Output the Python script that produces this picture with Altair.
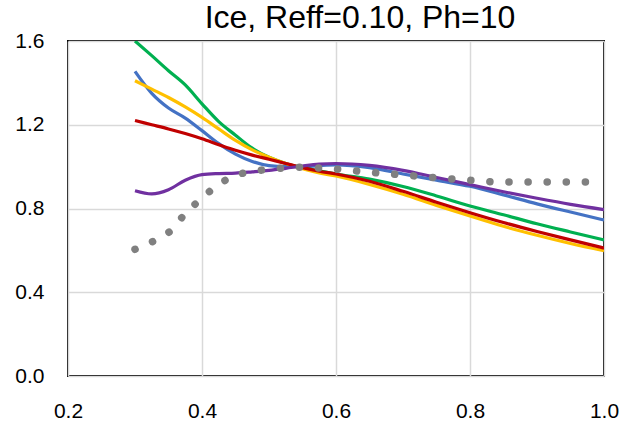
import altair as alt
import pandas as pd

x_vals = [0.30, 0.325, 0.35, 0.375, 0.40, 0.425, 0.45, 0.475, 0.50, 0.525, 0.55,
          0.575, 0.60, 0.65, 0.70, 0.75, 0.80, 0.85, 0.90, 0.95, 1.00]
blue = [1.455, 1.35, 1.28, 1.232, 1.172, 1.11, 1.06, 1.025, 1.005, 1.0, 1.0,
        1.005, 1.008, 0.995, 0.965, 0.935, 0.906, 0.865, 0.822, 0.783, 0.745]
green = [1.60, 1.53, 1.458, 1.39, 1.30, 1.215, 1.15, 1.088, 1.045, 1.015, 0.995,
         0.98, 0.965, 0.94, 0.905, 0.86, 0.812, 0.77, 0.727, 0.688, 0.65]
yellow = [1.41, 1.37, 1.33, 1.285, 1.235, 1.18, 1.125, 1.08, 1.045, 1.015, 0.99,
          0.97, 0.955, 0.915, 0.868, 0.815, 0.764, 0.715, 0.672, 0.633, 0.598]
red = [1.22, 1.20, 1.18, 1.158, 1.133, 1.105, 1.078, 1.055, 1.035, 1.015, 0.995,
       0.978, 0.965, 0.93, 0.882, 0.83, 0.78, 0.733, 0.69, 0.65, 0.611]
purple = [0.885, 0.870, 0.89, 0.935, 0.962, 0.967, 0.969, 0.975, 0.982, 0.992, 1.003,
          1.012, 1.015, 1.006, 0.982, 0.948, 0.914, 0.88, 0.849, 0.82, 0.795]
gray = [0.605, 0.64, 0.685, 0.775, 0.85, 0.915, 0.958, 0.977, 0.987, 0.994, 0.997,
        0.993, 0.988, 0.973, 0.96, 0.947, 0.935, 0.926, 0.926, 0.926, 0.926]

x_ticks = [0.2, 0.4, 0.6, 0.8, 1.0]
y_ticks = [0.0, 0.4, 0.8, 1.2, 1.6]

df = pd.DataFrame({"x": x_vals, "blue": blue, "green": green, "yellow": yellow,
                   "red": red, "purple": purple, "gray": gray})

FONT = "Liberation Sans"

x_enc = alt.X("x:Q", scale=alt.Scale(domain=[0.2, 1.0], nice=False, zero=False),
              axis=alt.Axis(values=x_ticks, format=".1f", title=None, grid=True,
                            gridColor="#d9d9d9", gridWidth=1.5, domain=False, ticks=False,
                            labelFontSize=21, labelFont=FONT, labelColor="#000000",
                            labelPadding=24, labelFlush=False))


def y_enc(field):
    return alt.Y(f"{field}:Q", scale=alt.Scale(domain=[0.0, 1.6], nice=False),
                 axis=alt.Axis(values=y_ticks, format=".1f", title=None, grid=True,
                               gridColor="#d9d9d9", gridWidth=1.5, domain=False, ticks=False,
                               labelFontSize=21, labelFont=FONT, labelColor="#000000",
                               labelPadding=24, labelFlush=False))


def line(field, color):
    return alt.Chart(df).mark_line(color=color, strokeWidth=3.2, interpolate="monotone",
                                   clip=True).encode(x=x_enc, y=y_enc(field))


gray_line = alt.Chart(df).mark_line(color="#808080", strokeWidth=7.5, strokeCap="round",
                                    strokeDash=[0.1, 19], interpolate="monotone",
                                    clip=True).encode(x=x_enc, y=y_enc("gray"))

chart = alt.layer(
    line("blue", "#4472C4"),
    line("green", "#00B050"),
    line("yellow", "#FFC000"),
    line("red", "#C00000"),
    line("purple", "#7030A0"),
    gray_line,
).properties(
    width=536, height=335,
    title=alt.TitleParams("Ice, Reff=0.10, Ph=10", font=FONT, fontSize=32,
                          fontWeight="normal", color="#000000", anchor="middle",
                          frame="group", baseline="alphabetic", offset=2, dx=24, dy=32),
    padding={"left": 68, "top": 41, "right": 19, "bottom": 47},
    autosize=alt.AutoSizeParams(type="none"),
    background="#ffffff",
).configure_view(stroke="#000000", strokeWidth=2)

chart.save("out.html", embed_options={"renderer": "svg", "actions": False})
